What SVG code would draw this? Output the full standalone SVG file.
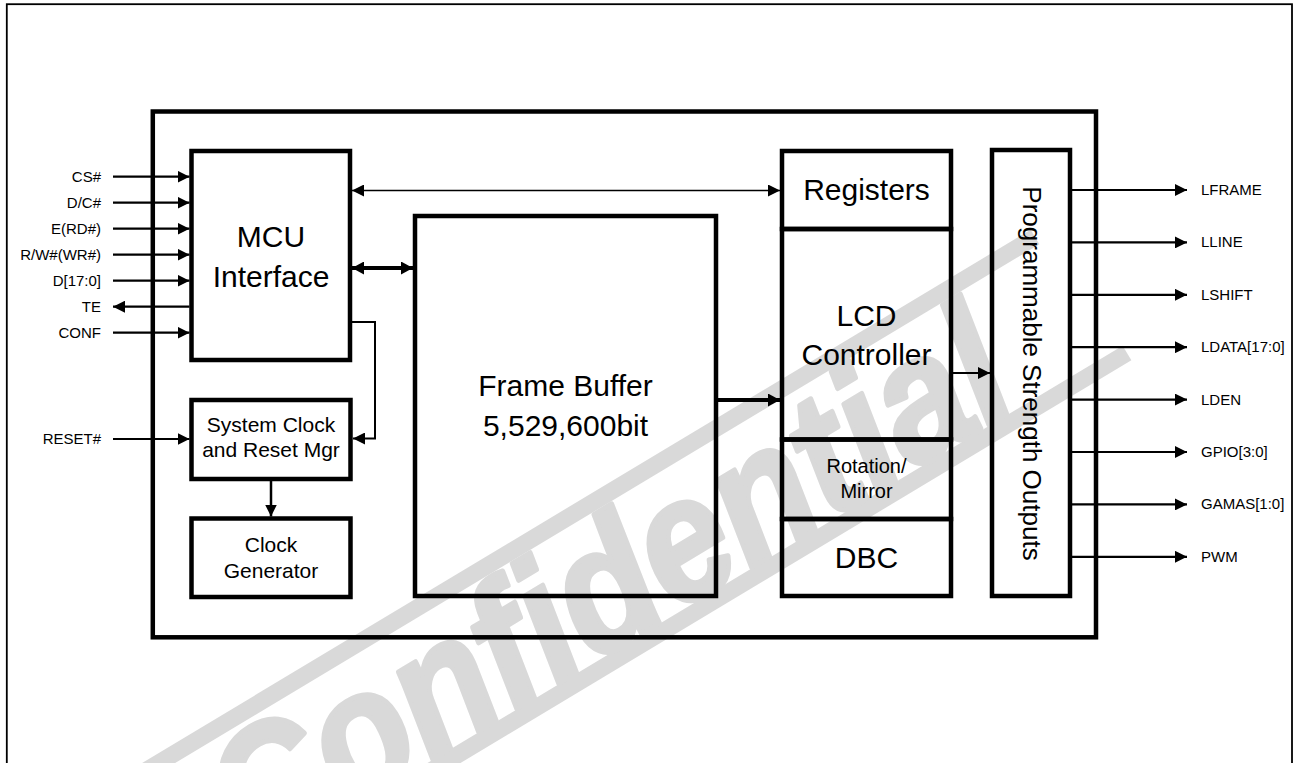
<svg xmlns="http://www.w3.org/2000/svg" width="1296" height="763" viewBox="0 0 1296 763">
<style>
.box{fill:none;stroke:#000;stroke-width:4.5}
.big{font-family:"Liberation Sans",Arial,sans-serif;font-size:30px;text-anchor:middle;fill:#000}
.mid{font-family:"Liberation Sans",Arial,sans-serif;font-size:21px;text-anchor:middle;fill:#000}
.pin{font-family:"Liberation Sans",Arial,sans-serif;font-size:15px;fill:#000}
.pinL{text-anchor:end}
.w{stroke:#000;fill:none}
.wm{stroke:#d9d9d9;stroke-width:17;fill:none}
.wmt{font-family:"Liberation Sans",Arial,sans-serif;font-size:175px;font-weight:bold;font-style:italic;fill:#d9d9d9;stroke:#d9d9d9;stroke-width:5;stroke-linejoin:round;text-anchor:middle}
</style>
<defs>
<marker id="ah" markerUnits="userSpaceOnUse" markerWidth="12" markerHeight="12" refX="12" refY="6" orient="auto-start-reverse">
<path d="M0,0 L12,6 L0,12 z" fill="#000"/>
</marker>
<marker id="ahb" markerUnits="userSpaceOnUse" markerWidth="12" markerHeight="13" refX="12" refY="6.5" orient="auto-start-reverse">
<path d="M0,0 L12,6.5 L0,13 z" fill="#000"/>
</marker>
</defs>
<rect x="0" y="0" width="1296" height="763" fill="#fff"/>
<g id="watermark">
<line class="wm" x1="97" y1="800" x2="1035" y2="237"/>
<line class="wm" x1="404" y1="787" x2="1127" y2="353"/>
<text class="wmt" transform="translate(605,581) rotate(-31)" x="0" y="64" textLength="900" lengthAdjust="spacingAndGlyphs">Confidential</text>
</g>
<rect x="6.8" y="4.2" width="1285.2" height="770" fill="none" stroke="#000" stroke-width="1.8"/>
<g id="chip"><rect class="box" x="152.8" y="111.5" width="943.2" height="525.8"/></g>
<g id="mcu"><rect class="box" x="191.5" y="151" width="158.5" height="209"/>
<text class="big" x="271" y="247">MCU</text><text class="big" x="271" y="287">Interface</text></g>
<g id="sysclk"><rect class="box" x="191.5" y="400" width="159" height="79"/>
<text class="mid" x="271" y="432">System Clock</text><text class="mid" x="271" y="457">and Reset Mgr</text></g>
<g id="clkgen"><rect class="box" x="191.5" y="518.5" width="159" height="78.5"/>
<text class="mid" x="271" y="552">Clock</text><text class="mid" x="271" y="578">Generator</text></g>
<g id="framebuffer"><rect class="box" x="415" y="216" width="301" height="380"/>
<text class="big" x="565.5" y="396">Frame Buffer</text><text class="big" x="565.5" y="436">5,529,600bit</text></g>
<g id="registers"><rect class="box" x="782" y="151" width="169" height="78"/>
<text class="big" x="866.5" y="200">Registers</text></g>
<g id="lcd"><rect class="box" x="782" y="229" width="169" height="210.5"/>
<text class="big" x="866.5" y="326">LCD</text><text class="big" x="866.5" y="365">Controller</text></g>
<g id="rotation"><rect class="box" x="782" y="439.5" width="169" height="79.5"/>
<text class="mid" x="866.5" y="473" style="font-size:20px">Rotation/</text><text class="mid" x="866.5" y="498" style="font-size:20px">Mirror</text></g>
<g id="dbc"><rect class="box" x="782" y="519" width="169" height="77"/>
<text class="big" x="866.5" y="568">DBC</text></g>
<g id="pso"><rect class="box" x="992" y="150" width="78" height="446"/>
<text class="big" style="font-size:26px" transform="translate(1023,373.5) rotate(90)" x="0" y="0">Programmable Strength Outputs</text></g>
<g id="connectors">
<line class="w" stroke-width="1.3" x1="352" y1="190.5" x2="780" y2="190.5" marker-start="url(#ah)" marker-end="url(#ah)"/>
<line class="w" stroke-width="4" x1="352" y1="268" x2="413" y2="268" marker-start="url(#ahb)" marker-end="url(#ahb)"/>
<line class="w" stroke-width="4" x1="718" y1="400" x2="780" y2="400" marker-end="url(#ahb)"/>
<line class="w" stroke-width="2" x1="953" y1="373" x2="990" y2="373" marker-end="url(#ah)"/>
<polyline class="w" stroke-width="2" points="352,322 375,322 375,438.5 353,438.5" marker-end="url(#ah)"/>
<line class="w" stroke-width="2.5" x1="271" y1="481" x2="271" y2="516.5" marker-end="url(#ah)"/>
<line class="w" stroke-width="2.2" x1="113" y1="176.7" x2="189.5" y2="176.7" marker-end="url(#ah)"/>
<line class="w" stroke-width="2.2" x1="113" y1="202.7" x2="189.5" y2="202.7" marker-end="url(#ah)"/>
<line class="w" stroke-width="2.2" x1="113" y1="228.7" x2="189.5" y2="228.7" marker-end="url(#ah)"/>
<line class="w" stroke-width="2.2" x1="113" y1="254.7" x2="189.5" y2="254.7" marker-end="url(#ah)"/>
<line class="w" stroke-width="2.2" x1="113" y1="280.7" x2="189.5" y2="280.7" marker-end="url(#ah)"/>
<line class="w" stroke-width="2.2" x1="189.5" y1="306.7" x2="113" y2="306.7" marker-end="url(#ah)"/>
<line class="w" stroke-width="2.2" x1="113" y1="332.7" x2="189.5" y2="332.7" marker-end="url(#ah)"/>
<line class="w" stroke-width="2.2" x1="113" y1="439" x2="189.5" y2="439" marker-end="url(#ah)"/>
<line class="w" stroke-width="2.2" x1="1072" y1="190" x2="1187" y2="190" marker-end="url(#ah)"/>
<line class="w" stroke-width="2.2" x1="1072" y1="242.4" x2="1187" y2="242.4" marker-end="url(#ah)"/>
<line class="w" stroke-width="2.2" x1="1072" y1="294.8" x2="1187" y2="294.8" marker-end="url(#ah)"/>
<line class="w" stroke-width="2.2" x1="1072" y1="347.2" x2="1187" y2="347.2" marker-end="url(#ah)"/>
<line class="w" stroke-width="2.2" x1="1072" y1="399.6" x2="1187" y2="399.6" marker-end="url(#ah)"/>
<line class="w" stroke-width="2.2" x1="1072" y1="452" x2="1187" y2="452" marker-end="url(#ah)"/>
<line class="w" stroke-width="2.2" x1="1072" y1="504.4" x2="1187" y2="504.4" marker-end="url(#ah)"/>
<line class="w" stroke-width="2.2" x1="1072" y1="556.8" x2="1187" y2="556.8" marker-end="url(#ah)"/>
</g>
<g id="pins-left">
<text class="pin pinL" x="101" y="181.7">CS#</text>
<text class="pin pinL" x="101" y="207.7">D/C#</text>
<text class="pin pinL" x="101" y="233.7">E(RD#)</text>
<text class="pin pinL" x="101" y="259.7">R/W#(WR#)</text>
<text class="pin pinL" x="101" y="285.7">D[17:0]</text>
<text class="pin pinL" x="101" y="311.7">TE</text>
<text class="pin pinL" x="101" y="337.7">CONF</text>
<text class="pin pinL" x="101" y="444">RESET#</text>
</g>
<g id="pins-right">
<text class="pin" x="1201" y="195">LFRAME</text>
<text class="pin" x="1201" y="247.4">LLINE</text>
<text class="pin" x="1201" y="299.8">LSHIFT</text>
<text class="pin" x="1201" y="352.2">LDATA[17:0]</text>
<text class="pin" x="1201" y="404.6">LDEN</text>
<text class="pin" x="1201" y="457">GPIO[3:0]</text>
<text class="pin" x="1201" y="509.4">GAMAS[1:0]</text>
<text class="pin" x="1201" y="561.8">PWM</text>
</g>
</svg>
